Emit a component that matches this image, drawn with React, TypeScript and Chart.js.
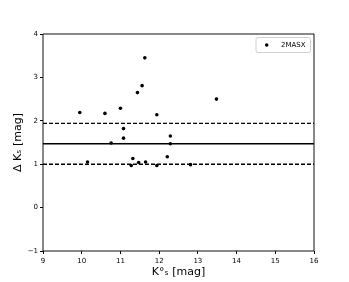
import React, { useEffect, useRef } from "react";
import { Chart, registerables } from "chart.js";

Chart.register(...registerables);

const kMag = [9.95, 10.15, 10.6, 10.76, 11.0, 11.08, 11.08, 11.28, 11.32, 11.44, 11.47, 11.56, 11.63, 11.65, 11.94, 11.94, 12.21, 12.29, 12.29, 12.81, 13.48];
const deltaK = [2.19, 1.05, 2.17, 1.49, 2.29, 1.82, 1.6, 0.97, 1.13, 2.65, 1.04, 2.81, 3.45, 1.05, 2.14, 0.97, 1.17, 1.65, 1.47, 0.99, 2.5];
const meanDelta = 1.47;
const upperDelta = 1.94;
const lowerDelta = 1.0;
const xRange = [9, 16];
const yRange = [-1, 4];
const seriesLabel = "2MASX";
const xTitle = "K°ₛ [mag]";
const yTitle = "Δ Kₛ [mag]";

const FONT = "'DejaVu Sans', sans-serif";

const framePlugin = {
  id: "frameAndLegend",
  afterDraw(chart: any) {
    const { ctx, chartArea } = chart;
    const { left, right, top, bottom } = chartArea;
    ctx.save();
    ctx.lineWidth = 1;
    ctx.strokeStyle = "#111";
    ctx.beginPath();
    ctx.moveTo(left, top);
    ctx.lineTo(right, top);
    ctx.lineTo(right, bottom);
    ctx.lineTo(left, bottom);
    ctx.closePath();
    ctx.stroke();

    // legend
    const lx = 256, ly = 37.5, lw = 54.5, lh = 15;
    ctx.beginPath();
    const r = 2;
    ctx.moveTo(lx + r, ly);
    ctx.lineTo(lx + lw - r, ly);
    ctx.quadraticCurveTo(lx + lw, ly, lx + lw, ly + r);
    ctx.lineTo(lx + lw, ly + lh - r);
    ctx.quadraticCurveTo(lx + lw, ly + lh, lx + lw - r, ly + lh);
    ctx.lineTo(lx + r, ly + lh);
    ctx.quadraticCurveTo(lx, ly + lh, lx, ly + lh - r);
    ctx.lineTo(lx, ly + r);
    ctx.quadraticCurveTo(lx, ly, lx + r, ly);
    ctx.closePath();
    ctx.fillStyle = "rgba(255,255,255,0.8)";
    ctx.fill();
    ctx.strokeStyle = "#d0d0d0";
    ctx.stroke();
    ctx.fillStyle = "#000";
    ctx.beginPath();
    ctx.arc(266.7, 45, 1.8, 0, Math.PI * 2);
    ctx.fill();
    ctx.font = `7px ${FONT}`;
    ctx.textBaseline = "middle";
    ctx.textAlign = "left";
    ctx.fillText(chart.data.datasets[0].label, 281, 45.5);
    ctx.restore();
  },
};

export default function App() {
  const ref = useRef<HTMLCanvasElement | null>(null);
  useEffect(() => {
    document.body.style.margin = "0";
    const canvas = ref.current!;
    const hline = (v: number, dashed: boolean) => ({
      type: "line" as const,
      label: "",
      data: [
        { x: xRange[0], y: v },
        { x: xRange[1], y: v },
      ],
      borderColor: "#000",
      borderWidth: 1.4,
      borderDash: dashed ? [4, 2] : [],
      pointRadius: 0,
      fill: false,
    });
    const chart = new Chart(canvas, {
      type: "scatter",
      data: {
        datasets: [
          {
            label: seriesLabel,
            data: kMag.map((x, i) => ({ x, y: deltaK[i] })),
            backgroundColor: "#000",
            borderWidth: 0,
            pointRadius: 1.8,
          } as any,
          hline(meanDelta, false),
          hline(upperDelta, true),
          hline(lowerDelta, true),
        ],
      },
      options: {
        animation: false,
        responsive: false,
        devicePixelRatio: 1,
        layout: { padding: { top: 34, right: 35, left: 0, bottom: 0 } },
        plugins: { legend: { display: false }, tooltip: { enabled: false } },
        scales: {
          x: {
            type: "linear",
            min: xRange[0],
            max: xRange[1],
            afterFit: (s: any) => {
              s.height = 31;
            },
            ticks: {
              stepSize: 1,
              color: "#000",
              padding: 2.5,
              font: { family: FONT, size: 7 },
            },
            grid: { drawOnChartArea: false, tickLength: 3, color: "#000" },
            border: { display: false },
            title: {
              display: true,
              text: xTitle,
              color: "#000",
              font: { family: FONT, size: 11 },
              padding: { top: 0, bottom: 3 },
            },
          },
          y: {
            type: "linear",
            min: yRange[0],
            max: yRange[1],
            afterFit: (s: any) => {
              s.width = 43;
            },
            ticks: {
              stepSize: 1,
              color: "#000",
              padding: 2,
              font: { family: FONT, size: 7 },
              callback: (v: any) => (v < 0 ? "−" + Math.abs(v) : String(v)),
            },
            grid: { drawOnChartArea: false, tickLength: 3, color: "#000" },
            border: { display: false },
            title: {
              display: true,
              text: yTitle,
              color: "#000",
              font: { family: FONT, size: 11 },
              padding: { top: 11.5, bottom: 0 },
            },
          },
        },
      },
      plugins: [framePlugin],
    } as any);
    return () => chart.destroy();
  }, []);
  return <canvas ref={ref} width={349} height={282} style={{ display: "block" }} />;
}
